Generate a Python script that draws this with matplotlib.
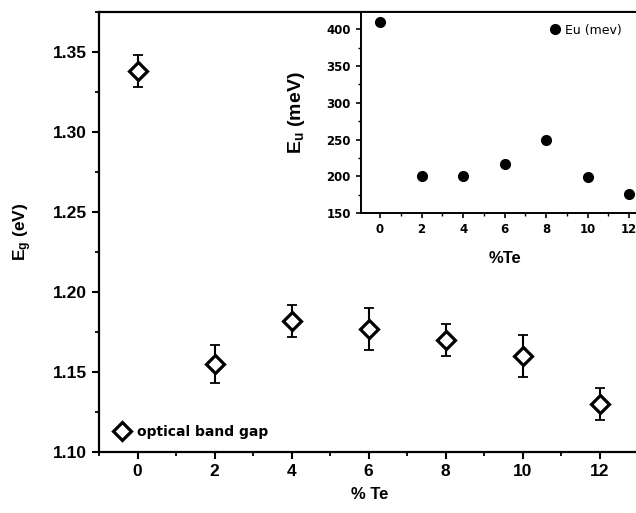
import matplotlib
matplotlib.use("Agg")
import matplotlib.pyplot as plt
from matplotlib.ticker import MultipleLocator

plt.rcParams['font.family'] = ['Liberation Sans', 'DejaVu Sans']
plt.rcParams['font.weight'] = 'bold'
plt.rcParams['mathtext.fontset'] = 'custom'
plt.rcParams['mathtext.rm'] = 'Liberation Sans:bold'
plt.rcParams['mathtext.it'] = 'Liberation Sans:bold'
plt.rcParams['mathtext.bf'] = 'Liberation Sans:bold'

# optical band gap vs Te content
te = [0, 2, 4, 6, 8, 10, 12]
eg = [1.338, 1.155, 1.182, 1.177, 1.170, 1.160, 1.130]
eg_err = [0.010, 0.012, 0.010, 0.013, 0.010, 0.013, 0.010]

# Urbach energy (inset)
eu = [410, 200, 201, 217, 250, 199, 176]

fig = plt.figure(figsize=(6.36, 5.13), dpi=100)

# main axes (right edge runs just past the picture)
ax = fig.add_axes([99/636, 61/513, 541/636, 440/513])
ax.errorbar(te, eg, yerr=eg_err, fmt='none', ecolor='black', elinewidth=1.5,
            capsize=3.5, capthick=1.3)
ax.plot(te, eg, 'D', ms=9, mfc='white', mec='black', mew=2.3, ls='none',
        label='optical band gap')
ax.set_xlim(-1, 13.05)
ax.set_ylim(1.10, 1.375)
ax.xaxis.set_major_locator(MultipleLocator(2))
ax.xaxis.set_minor_locator(MultipleLocator(1))
ax.yaxis.set_major_locator(MultipleLocator(0.05))
ax.yaxis.set_minor_locator(MultipleLocator(0.025))
ax.yaxis.set_major_formatter(matplotlib.ticker.FormatStrFormatter('%.2f'))
ax.tick_params(which='major', direction='out', length=5, width=1.5, labelsize=12.5)
ax.tick_params(which='minor', direction='out', length=3, width=1.3)
for s in ax.spines.values():
    s.set_linewidth(1.6)
ax.spines['right'].set_visible(False)
ax.set_xlabel('% Te', fontsize=12, fontweight='bold', labelpad=6)
ax.set_ylabel('E$_g$ (eV)', fontsize=12.5, fontweight='bold', labelpad=14)
ax.legend(loc='center left', bbox_to_anchor=(0.0296, 0.0455), frameon=False,
          handlelength=1.0, handletextpad=0.6, borderpad=0, borderaxespad=0,
          prop={'family': 'DejaVu Sans', 'weight': 'bold', 'size': 10})

# inset
ins = fig.add_axes([360.7/636, 300/513, 289.3/636, 201/513])
ins.plot(te, eu, 'o', color='black', ms=7, label='Eu (mev)')
ins.set_xlim(-0.93, 13)
ins.set_ylim(150, 423.5)
ins.xaxis.set_major_locator(MultipleLocator(2))
ins.xaxis.set_minor_locator(MultipleLocator(1))
ins.yaxis.set_major_locator(MultipleLocator(50))
ins.yaxis.set_minor_locator(MultipleLocator(25))
ins.tick_params(which='major', direction='out', length=3.5, width=1.2, labelsize=8.5)
ins.tick_params(which='minor', direction='out', length=2, width=1)
for lab in ins.get_xticklabels() + ins.get_yticklabels():
    lab.set_fontfamily('DejaVu Sans')
    lab.set_fontweight('bold')
for s in ins.spines.values():
    s.set_linewidth(1.4)
ins.spines['right'].set_visible(False)
ins.set_xlabel('%Te', fontsize=12, fontweight='bold', labelpad=11)
ins.set_ylabel('E$_u$ (meV)', fontsize=14, fontweight='bold', labelpad=14)
ins.legend(loc='center left', bbox_to_anchor=(0.654, 0.91), frameon=False,
           handlelength=0.8, handletextpad=0.4, borderpad=0, borderaxespad=0,
           prop={'family': 'DejaVu Sans', 'weight': 'normal', 'size': 9})

fig.savefig('out.png', dpi=100)
